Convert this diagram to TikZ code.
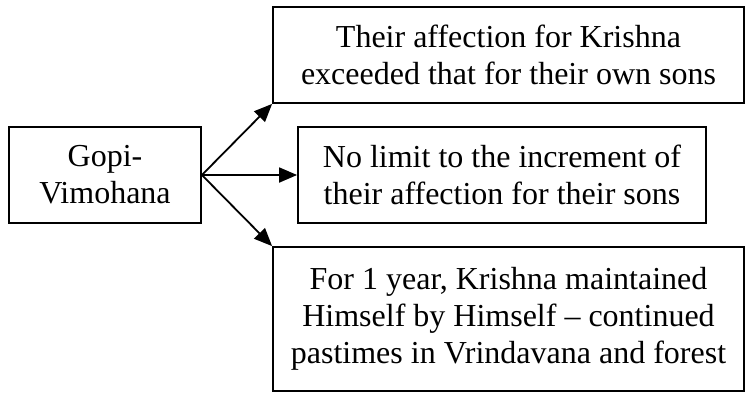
\documentclass[tikz,border=0pt]{standalone}
\usepackage{fontspec}
\setmainfont{Liberation Serif}
\usetikzlibrary{arrows.meta}
\begin{document}
\begin{tikzpicture}[x=1pt,y=-1pt,
  box/.style={draw, line width=1.8pt, inner sep=0pt, align=center,
    font=\fontsize{32}{37}\selectfont},
  link/.style={line width=1.8pt, -{Triangle[length=18pt,width=15pt]}}]
  \useasboundingbox (0,0) rectangle (745,392);
  % root and the three branches
  \node[box, minimum width=192pt, minimum height=96pt] (root) at (105,175) {Gopi-\\Vimohana};
  \node[box, minimum width=471pt, minimum height=96pt] (top) at (508.5,55)
    {Their affection for Krishna\\exceeded that for their own sons};
  \node[box, minimum width=408pt, minimum height=96pt] (mid) at (502,175)
    {No limit to the increment of\\their affection for their sons};
  \node[box, minimum width=471pt, minimum height=144pt] (bot) at (508.5,319)
    {For 1 year, Krishna maintained\\Himself by Himself -- continued\\pastimes in Vrindavana and forest};
  % connectors
  \draw[link] (root.east) -- (top.south west);
  \draw[link] (root.east) -- (mid.west);
  \draw[link] (root.east) -- (bot.north west);
\end{tikzpicture}
\end{document}
